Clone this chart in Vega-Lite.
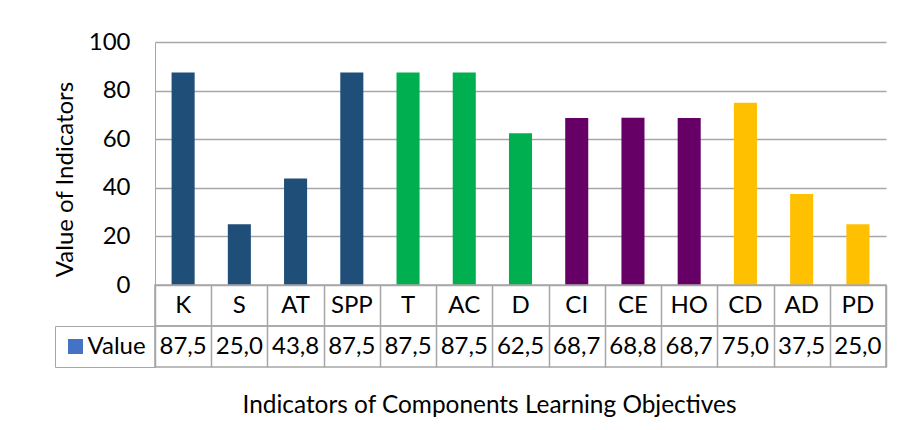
{
  "$schema": "https://vega.github.io/schema/vega-lite/v6.json",
  "padding": {"left": 53, "top": 30, "right": 5, "bottom": 5},
  "background": "white",
  "spacing": 0,
  "bounds": "flush",
  "resolve": {"scale": {"color": "independent"}, "legend": {"color": "independent"}},
  "config": {
    "font": "Lato",
    "view": {"stroke": null},
    "axis": {"labelFont": "Lato", "titleFont": "Lato", "labelColor": "black", "titleColor": "black"}
  },
  "datasets": {
    "rows": [
      {"cat": "K", "value": 87.5, "label": "87,5", "group": "g1", "series": "Value"},
      {"cat": "S", "value": 25.0, "label": "25,0", "group": "g1", "series": "Value"},
      {"cat": "AT", "value": 43.8, "label": "43,8", "group": "g1", "series": "Value"},
      {"cat": "SPP", "value": 87.5, "label": "87,5", "group": "g1", "series": "Value"},
      {"cat": "T", "value": 87.5, "label": "87,5", "group": "g2", "series": "Value"},
      {"cat": "AC", "value": 87.5, "label": "87,5", "group": "g2", "series": "Value"},
      {"cat": "D", "value": 62.5, "label": "62,5", "group": "g2", "series": "Value"},
      {"cat": "CI", "value": 68.7, "label": "68,7", "group": "g3", "series": "Value"},
      {"cat": "CE", "value": 68.8, "label": "68,8", "group": "g3", "series": "Value"},
      {"cat": "HO", "value": 68.7, "label": "68,7", "group": "g3", "series": "Value"},
      {"cat": "CD", "value": 75.0, "label": "75,0", "group": "g4", "series": "Value"},
      {"cat": "AD", "value": 37.5, "label": "37,5", "group": "g4", "series": "Value"},
      {"cat": "PD", "value": 25.0, "label": "25,0", "group": "g4", "series": "Value"}
    ]
  },
  "vconcat": [
    {
      "width": 731,
      "height": 243,
      "data": {"name": "rows"},
      "mark": {"type": "bar", "width": {"band": 0.41}},
      "encoding": {
        "x": {
          "field": "cat", "type": "nominal", "sort": null,
          "scale": {"paddingInner": 0, "paddingOuter": 0},
          "axis": null
        },
        "y": {
          "field": "value", "type": "quantitative",
          "scale": {"domain": [0, 100]},
          "axis": {
            "values": [0, 20, 40, 60, 80, 100],
            "title": "Value of Indicators",
            "titleFontSize": 24, "titleFontWeight": "normal",
            "titleY": 137, "titlePadding": 11,
            "labelFontSize": 24, "labelPadding": 25,
            "ticks": false, "tickSize": 0,
            "domain": true, "domainColor": "#A6A6A6",
            "grid": true, "gridColor": "#A6A6A6", "gridWidth": 1.5
          }
        },
        "color": {
          "field": "group", "type": "nominal",
          "scale": {"domain": ["g1", "g2", "g3", "g4"], "range": ["#1F4E79", "#00B050", "#660066", "#FFC000"]},
          "legend": null
        }
      }
    },
    {
      "width": 731,
      "height": 41,
      "data": {"name": "rows"},
      "view": {"stroke": "#A6A6A6", "strokeWidth": 1.5},
      "mark": {"type": "text", "fontSize": 24, "font": "Lato", "color": "black", "baseline": "middle"},
      "encoding": {
        "x": {
          "field": "cat", "type": "nominal", "sort": null,
          "scale": {"paddingInner": 0, "paddingOuter": 0},
          "axis": {"orient": "bottom", "labels": false, "ticks": false, "domain": false, "title": null, "grid": true, "tickBand": "extent", "gridColor": "#A6A6A6", "gridWidth": 1.5}
        },
        "text": {"field": "cat"}
      }
    },
    {
      "width": 731,
      "height": 41,
      "data": {"name": "rows"},
      "view": {"stroke": "#A6A6A6", "strokeWidth": 1.5},
      "encoding": {
        "x": {
          "field": "cat", "type": "nominal", "sort": null,
          "scale": {"paddingInner": 0, "paddingOuter": 0},
          "axis": {
            "orient": "bottom", "labels": false, "ticks": false, "domain": false,
            "grid": true, "tickBand": "extent", "gridColor": "#A6A6A6", "gridWidth": 1.5,
            "title": "Indicators of Components Learning Objectives",
            "titleFontSize": 24.4, "titleFontWeight": "normal",
            "titleX": 334, "titleY": 45, "titleBaseline": "alphabetic"
          }
        }
      },
      "layer": [
        {
          "mark": {"type": "text", "fontSize": 24, "font": "Lato", "baseline": "middle", "color": "black"},
          "encoding": {"text": {"field": "label"}}
        },
        {
          "mark": {"type": "text", "fontSize": 24, "font": "Lato", "baseline": "middle"},
          "encoding": {
            "text": {"value": " "},
            "color": {
              "field": "series", "type": "nominal",
              "scale": {"domain": ["Value"], "range": ["#4472C4"]},
              "legend": {
                "orient": "left", "title": null, "offset": 0,
                "padding": 8.5, "labelOffset": 0,
                "symbolType": "square", "symbolSize": 225, "symbolStrokeWidth": 0,
                "labelFontSize": 24, "labelFont": "Lato", "labelColor": "black",
                "strokeColor": "#A6A6A6", "symbolOpacity": 1
              }
            }
          }
        }
      ]
    }
  ]
}
